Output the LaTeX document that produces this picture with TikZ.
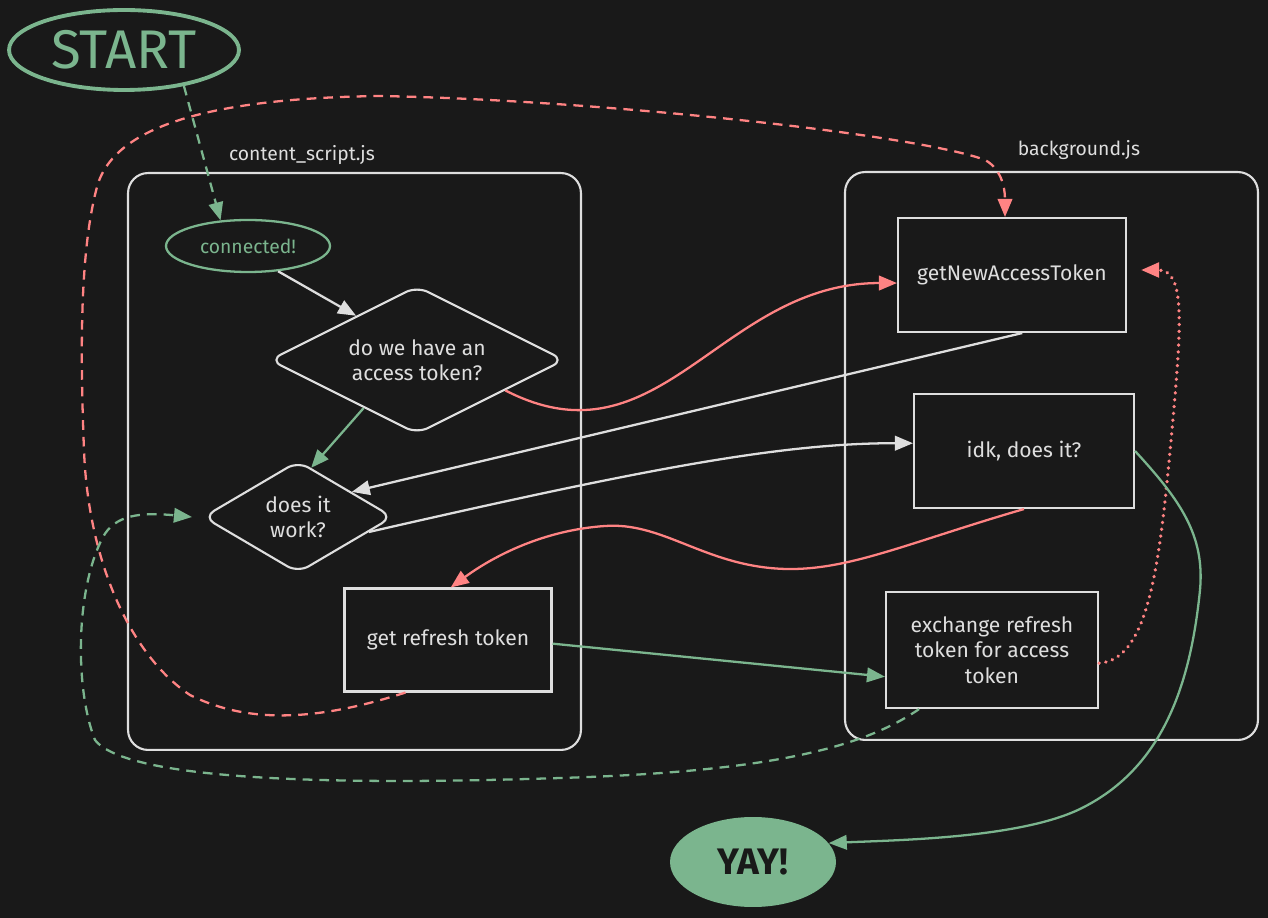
\documentclass[tikz,border=0pt]{standalone}
\usepackage{fontspec}
\setmainfont{Fira Sans}
\usetikzlibrary{shapes.geometric,arrows.meta}

\definecolor{bgdark}{HTML}{191919}
\definecolor{mint}{HTML}{7BB58E}
\definecolor{salmon}{HTML}{FF8383}
\definecolor{chalk}{HTML}{DEDEDE}

\begin{document}
\begin{tikzpicture}[x=0.02cm,y=-0.02cm,
	box/.style={draw=chalk, line width=1.2pt, text=chalk, align=center, font=\fontsize{12}{14.5}\selectfont},
	decide/.style={box, diamond, rounded corners=7pt, inner sep=0pt},
	frame/.style={draw=chalk, line width=1.2pt, rounded corners=0.4cm},
	tag/.style={text=chalk, font=\fontsize{11}{13}\selectfont},
	wire/.style={-{Triangle[length=0.36cm,width=0.29cm]}, line width=1.3pt},
	dashline/.style={dash pattern=on 5.5pt off 4pt},
	dotline/.style={line cap=round, dash pattern=on 0.1pt off 3.8pt, line width=2pt}]

	% background
	\fill [bgdark] (0,0) rectangle (1268,918);

	% the two scripts
	\node [frame, minimum width=9.06cm, minimum height=11.54cm] (csframe) at (354.5,461.5) {};
	\node [frame, minimum width=8.26cm, minimum height=11.36cm] (bgframe) at (1051.5,456) {};
	\node [tag] (cslabel) at (302,155) {content\_script.js};
	\node [tag] (bglabel) at (1079,150) {background.js};

	\node [draw=mint, ellipse, line width=2.2pt, minimum width=4.6cm, minimum height=1.6cm, text=mint, font=\fontsize{31}{36}\selectfont] (start) at (124,50) {START};
	\node [draw=mint, ellipse, line width=1.3pt, minimum width=3.28cm, minimum height=1.04cm, text=mint, font=\fontsize{11}{13}\selectfont] (conn) at (248,246) {connected!};

	\node [decide, aspect=2, minimum width=5.9cm, minimum height=2.96cm] (token) at (417,360) {do we have an\\access token?};
	\node [decide, aspect=1.7, minimum width=3.8cm, minimum height=2.24cm] (works) at (298,517) {does it\\work?};
	\node [box, minimum width=4.14cm, minimum height=2.06cm] (refresh) at (448,640) {get refresh token};

	\node [box, minimum width=4.56cm, minimum height=2.28cm] (getnew) at (1012,275) {getNewAccessToken};
	\node [box, minimum width=4.4cm, minimum height=2.28cm] (idk) at (1024,451) {idk, does it?};
	\node [box, minimum width=4.24cm, minimum height=2.32cm] (swap) at (992,650) {exchange refresh\\token for access\\token};

	\node [ellipse, fill=mint, minimum width=3.32cm, minimum height=1.8cm, text=bgdark, font=\bfseries\fontsize{21}{25}\selectfont] (yay) at (753,862) {YAY!};

	% straight ones
	\draw [wire, mint, dashline] (start.-31) -- (conn.137);
	\draw [wire, chalk] (conn.-40) -- (token.144);
	\draw [wire, mint] (token.222) -- (works.75);
	\draw [wire, chalk] (getnew.-80) -- (works.25);
	\draw [wire, mint] (refresh.-2) -- (swap.194);

	% curved ones
	\draw [wire, salmon] (token.-19) .. controls (660,470) and (720,283) .. (getnew.184);
	\draw [wire, chalk] (works.-12) .. controls (640,470) and (780,443) .. (idk.176);
	\draw [wire, salmon] (idk.south) .. controls (900,545) and (840,575) .. (770,568)
		.. controls (700,561) and (660,522) .. (605,526)
		.. controls (545,530) and (495,555) .. (refresh.87);
	\draw [wire, salmon, dotline] (swap.-7) .. controls (1150,660) and (1160,560) .. (1172,430)
		.. controls (1182,320) and (1185,270) .. ([xshift=0.28cm,yshift=0.1cm]getnew.east);
	\draw [wire, mint] (idk.east) .. controls (1180,500) and (1205,535) .. (1200,590)
		.. controls (1190,690) and (1160,770) .. (1080,809)
		.. controls (1020,838) and (900,840) .. (yay.14);

	% the long way round
	\draw [wire, salmon, dashline] (refresh.-129) .. controls (320,720) and (250,725) .. (190,695)
		.. controls (130,655) and (88,560) .. (84,450)
		.. controls (80,350) and (80,250) .. (97,187)
		.. controls (115,120) and (230,98) .. (380,96)
		.. controls (600,100) and (920,135) .. (985,160)
		.. controls (1000,168) and (1005,185) .. ([xshift=-0.14cm]getnew.north);
	\draw [wire, mint, dashline] (swap.-141) .. controls (860,750) and (760,772) .. (560,778)
		.. controls (380,784) and (130,785) .. (95,740)
		.. controls (75,690) and (75,590) .. (103,537)
		.. controls (115,515) and (140,512) .. ([xshift=-0.2cm]works.west);
	%	\draw [wire, chalk] (idk.west) -- (works.east);
\end{tikzpicture}
\end{document}
